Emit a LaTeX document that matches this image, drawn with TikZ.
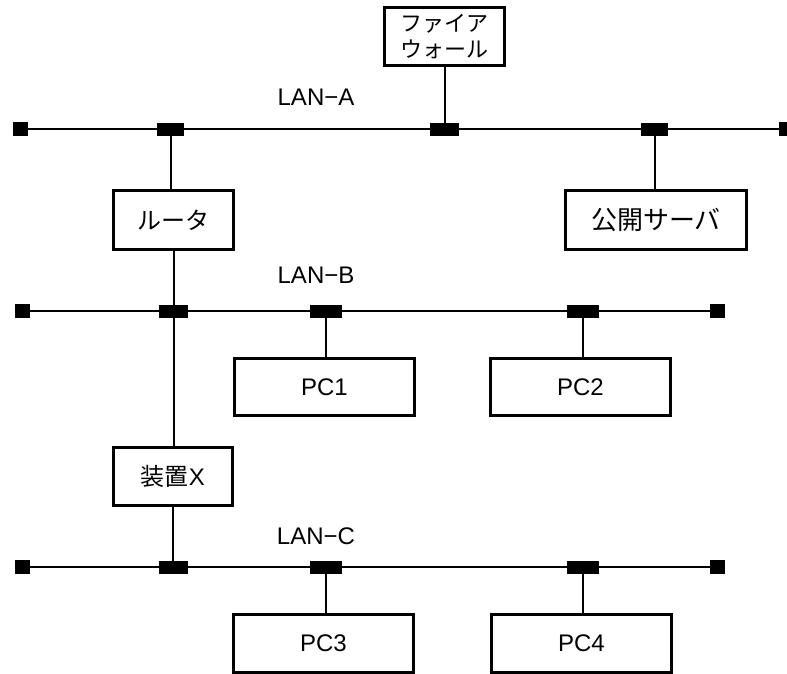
\documentclass[tikz,border=0pt]{standalone}
\usepackage{fontspec}
\setmainfont{Liberation Sans}
\newfontfamily\jpfont{Noto Sans CJK JP}
\begin{document}
\begin{tikzpicture}[x=1pt,y=-1pt,
  box/.style={draw=black, line width=2.6pt, fill=white, inner sep=0pt, outer sep=0pt,
    font=\fontsize{24}{26}\selectfont, align=center},
  tap/.style={fill=black, inner sep=0pt, outer sep=0pt, minimum width=29pt, minimum height=13pt},
  term/.style={fill=black, inner sep=0pt, outer sep=0pt, minimum width=15pt, minimum height=14pt},
  bus/.style={line width=2pt},
  drop/.style={line width=2pt},
  lanlabel/.style={font=\fontsize{24}{26}\selectfont, inner sep=0pt}]
\useasboundingbox (0,0) rectangle (787,674);
\fill[white] (0,0) rectangle (787,674);

% LAN-A
\node[term] (a0) at (20.5,129.5) {};
\node[term] (a9) at (786.5,129.5) {};
\draw[bus] (a0.center) -- (a9.center);
\node[tap, minimum width=27pt] (a1) at (170.5,129.5) {};
\node[tap] (a2) at (444,129.5) {};
\node[tap, minimum width=27pt] (a3) at (654.5,129.5) {};
\node[lanlabel] (la) at (316,97) {LAN−A};

% LAN-B
\node[term] (b0) at (22.5,311) {};
\node[term] (b9) at (717.5,311) {};
\draw[bus] (b0.center) -- (b9.center);
\node[tap] (b1) at (173.5,311) {};
\node[tap, minimum width=32pt] (b2) at (326,311) {};
\node[tap, minimum width=32pt] (b3) at (583,311) {};
\node[lanlabel] (lb) at (316,275) {LAN−B};

% LAN-C
\node[term] (c0) at (22.5,567) {};
\node[term] (c9) at (717.5,567) {};
\draw[bus] (c0.center) -- (c9.center);
\node[tap] (c1) at (173.5,567) {};
\node[tap, minimum width=32pt] (c2) at (326,567) {};
\node[tap, minimum width=32pt] (c3) at (583,567) {};
\node[lanlabel] (lc) at (316,536) {LAN−C};

% boxes
\node[box, minimum width=120pt, minimum height=58pt, font=\jpfont\fontsize{22}{26}\selectfont] (fw) at (444.5,36.5) {ファイア\\ウォール};
\node[box, minimum width=120pt, minimum height=59pt, font=\jpfont\fontsize{24}{26}\selectfont] (rt) at (173.5,220) {ルータ};
\node[box, minimum width=181pt, minimum height=59pt, font=\jpfont\fontsize{26}{28}\selectfont] (sv) at (656,220) {公開サーバ};
\node[box, minimum width=180pt, minimum height=57pt] (pc1) at (324.5,387) {PC1};
\node[box, minimum width=180pt, minimum height=57pt] (pc2) at (580.5,387) {PC2};
\node[box, minimum width=119pt, minimum height=58pt] (dx) at (173,476.5) {{\jpfont 装置}X};
\node[box, minimum width=180pt, minimum height=58pt] (pc3) at (323.5,643.5) {PC3};
\node[box, minimum width=180pt, minimum height=58pt] (pc4) at (581.5,643.5) {PC4};

% drops
\draw[drop] (fw.south) -- (fw.south |- a2.north);
\draw[drop] (a1.south) -- (a1.south |- rt.north);
\draw[drop] (a3.south) -- (a3.south |- sv.north);
\draw[drop] (rt.south) -- (rt.south |- b1.north);
\draw[drop] (b1.south) -- (b1.south |- dx.north);
\draw[drop] (b2.south) -- (b2.south |- pc1.north);
\draw[drop] (b3.south) -- (b3.south |- pc2.north);
\draw[drop] (dx.south) -- (dx.south |- c1.north);
\draw[drop] (c2.south) -- (c2.south |- pc3.north);
\draw[drop] (c3.south) -- (c3.south |- pc4.north);
\end{tikzpicture}
\end{document}
